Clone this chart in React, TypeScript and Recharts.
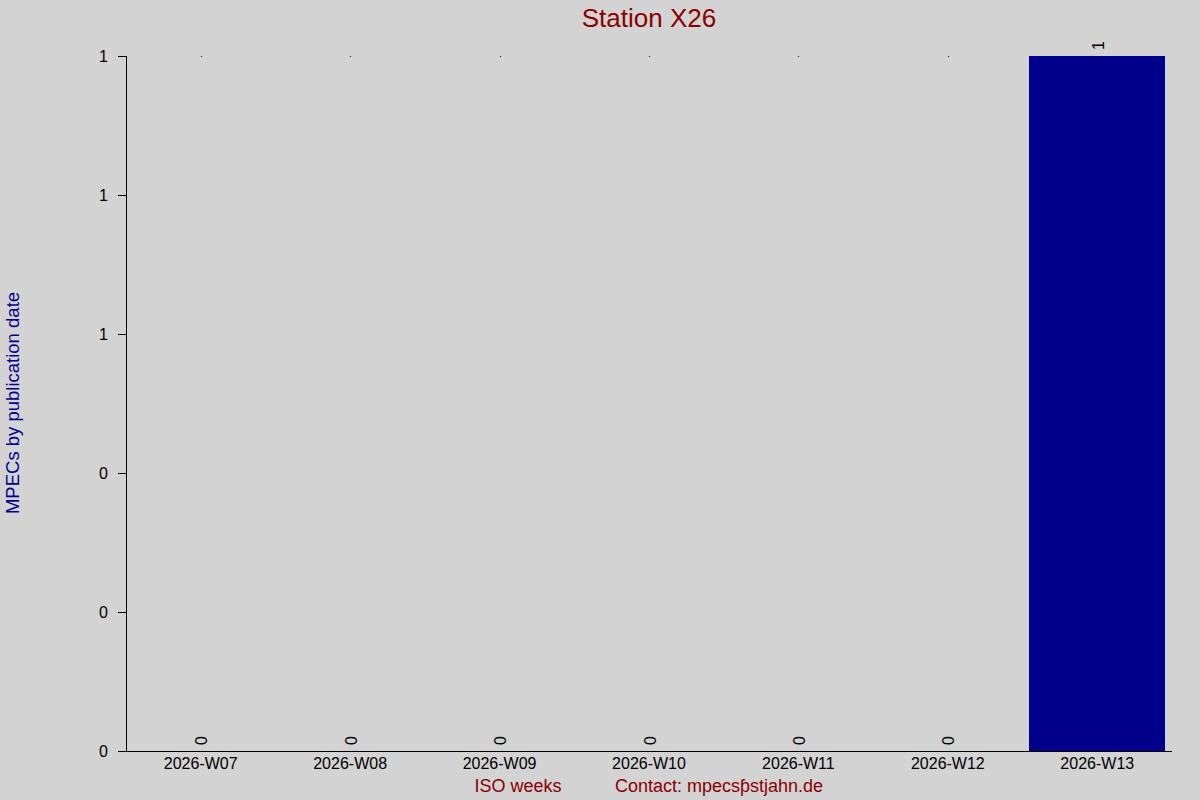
import React from 'react';
import { BarChart, Bar, XAxis, YAxis } from 'recharts';

const weeks = ['2026-W07', '2026-W08', '2026-W09', '2026-W10', '2026-W11', '2026-W12', '2026-W13'];
const counts = [0, 0, 0, 0, 0, 0, 1];
const yTicks = [0, 0.2, 0.4, 0.6, 0.8, 1];

const title = 'Station X26';
const yLabel = 'MPECs by publication date';
const xLabel = 'ISO weeks';
const contact = 'Contact: mpecsƥstjahn.de';

const data = weeks.map((w, i) => ({ week: w, count: counts[i] }));

const FONT = '"Liberation Sans", Arial, Helvetica, sans-serif';

const BarWithLabel = (props: any) => {
  const { x, y, width, height, fill, payload, background } = props;
  const cx = x + width / 2;
  const ty = y - 6;
  const value = payload ? payload.count : props.value;
  return (
    <g>
      {height > 0 ? (
        <rect x={x} y={y} width={width} height={height} fill={fill} shapeRendering="crispEdges" />
      ) : null}
      {height <= 0 && background ? (
        <rect x={Math.round(cx)} y={background.y} width={1} height={1} fill="#000" shapeRendering="crispEdges" />
      ) : null}
      <text
        x={cx + 1}
        y={ty}
        transform={`rotate(-90, ${cx + 1}, ${ty})`}
        textAnchor="start"
        dominantBaseline="central"
        fontSize={16}
        fontFamily={FONT}
        fill="#000"
      >
        {value}
      </text>
    </g>
  );
};

export default function App() {
  return (
    <div style={{ position: 'absolute', left: 0, top: 0, width: 1200, height: 800, background: '#D3D3D3', fontFamily: FONT }}>
      <BarChart
        width={1200}
        height={800}
        data={data}
        margin={{ top: 56, right: 28, bottom: 19, left: 66 }}
        barCategoryGap="4.5%"
      >
        <XAxis
          dataKey="week"
          stroke="#000"
          tickLine={false}
          tickSize={0}
          tickMargin={7}
          height={30}
          tick={{ fill: '#000', fontSize: 16, fontFamily: FONT }}
          axisLine={{ stroke: '#000', strokeWidth: 1, shapeRendering: 'crispEdges' }}
        />
        <YAxis
          width={60}
          domain={[0, 1]}
          ticks={yTicks}
          tickFormatter={(v: number) => v.toFixed(0)}
          interval={0}
          stroke="#000"
          tickSize={8}
          tickMargin={10}
          tick={{ fill: '#000', fontSize: 16, fontFamily: FONT }}
          tickLine={{ stroke: '#000', shapeRendering: 'crispEdges' }}
          axisLine={{ stroke: '#000', shapeRendering: 'crispEdges' }}
        />
        <Bar dataKey="count" fill="#00008B" isAnimationActive={false} shape={<BarWithLabel />} />
        <text x={649} y={18} textAnchor="middle" dominantBaseline="central" fontSize={26} fontFamily={FONT} fill="#8B0000">
          {title}
        </text>
        <text
          x={12}
          y={403}
          transform="rotate(-90, 12, 403)"
          textAnchor="middle"
          dominantBaseline="central"
          fontSize={18.5}
          fontFamily={FONT}
          fill="#00008B"
        >
          {yLabel}
        </text>
        <text x={518} y={786} textAnchor="middle" dominantBaseline="central" fontSize={18} fontFamily={FONT} fill="#8B0000">
          {xLabel}
        </text>
        <text x={719} y={786} textAnchor="middle" dominantBaseline="central" fontSize={18} fontFamily={FONT} fill="#8B0000">
          {contact}
        </text>
      </BarChart>
    </div>
  );
}
